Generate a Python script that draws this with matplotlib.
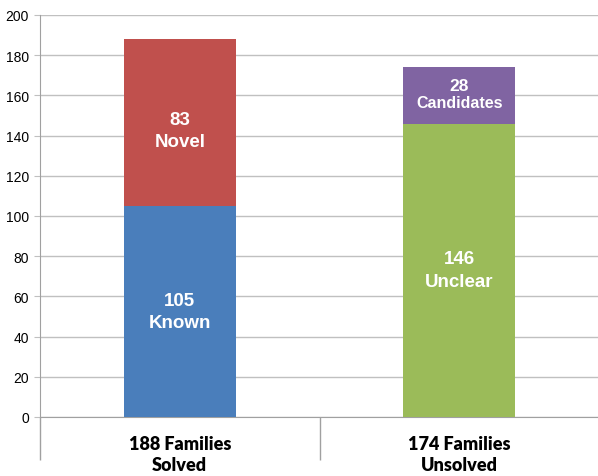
import matplotlib
matplotlib.use("Agg")
import matplotlib.pyplot as plt
import numpy as np

categories = ["188 Families\nSolved", "174 Families\nUnsolved"]
bottom_vals = [105, 146]
top_vals = [83, 28]
bottom_names = ["Known", "Unclear"]
top_names = ["Novel", "Candidates"]
bottom_colors = ["#4A7EBB", "#9BBB59"]
top_colors = ["#C0504D", "#8064A2"]
yticks = list(range(0, 201, 20))

fig = plt.figure(figsize=(5.98, 4.77), dpi=100)
W, H = 598, 477
x0, x1 = 40, 599
y0, y1 = 418, 16
ax = fig.add_axes([x0 / W, (H - y0) / H, (x1 - x0) / W, (y0 - y1) / H])

x = np.arange(len(categories))
bw = 0.40
ax.bar(x, bottom_vals, width=bw, color=bottom_colors, zorder=3)
ax.bar(x, top_vals, width=bw, bottom=bottom_vals, color=top_colors, zorder=3)

for i in range(len(x)):
    b, t = bottom_vals[i], top_vals[i]
    ax.text(x[i], b / 2, f"{b}\n{bottom_names[i]}", ha="center", va="center",
            color="white", fontsize=13.5, fontweight="bold",
            family="Liberation Sans", linespacing=1.45, zorder=4)
    if t > 50:
        ax.text(x[i], b + t / 2 - 4, f"{t}\n{top_names[i]}", ha="center", va="center",
                color="white", fontsize=13.5, fontweight="bold",
                family="Liberation Sans", linespacing=1.45, zorder=4)
    else:
        ax.text(x[i], b + t / 2 + 1.0, f"{t}", ha="center", va="bottom",
                color="white", fontsize=12.5, fontweight="bold",
                family="Liberation Sans", zorder=4)
        ax.text(x[i], b + t / 2 + 0.0, top_names[i], ha="center", va="top",
                color="white", fontsize=11.5, fontweight="bold",
                family="Liberation Sans", zorder=4)

ax.set_xlim(-0.5, 1.5)
ax.set_ylim(0, 200)
ax.set_yticks(yticks)
ax.set_yticklabels([str(v) for v in yticks], family="Liberation Sans", fontsize=10)
ax.yaxis.grid(True, color="#C0C0C0", linewidth=1.0, zorder=0)
ax.tick_params(axis="y", length=4, color="#C0C0C0", pad=4)

ax.set_xticks(x)
ax.set_xticklabels(categories, fontsize=13, fontweight="heavy", family="Lato",
                   linespacing=1.3)
ax.tick_params(axis="x", which="major", length=0, pad=13)
ax.set_xticks([-0.5, 0.5, 1.5], minor=True)
ax.tick_params(axis="x", which="minor", length=31, color="#A0A0A0", width=1)

for s in ["top", "right"]:
    ax.spines[s].set_visible(False)
ax.spines["left"].set_color("#A0A0A0")
ax.spines["bottom"].set_color("#A0A0A0")

fig.savefig("out.png", dpi=100)
